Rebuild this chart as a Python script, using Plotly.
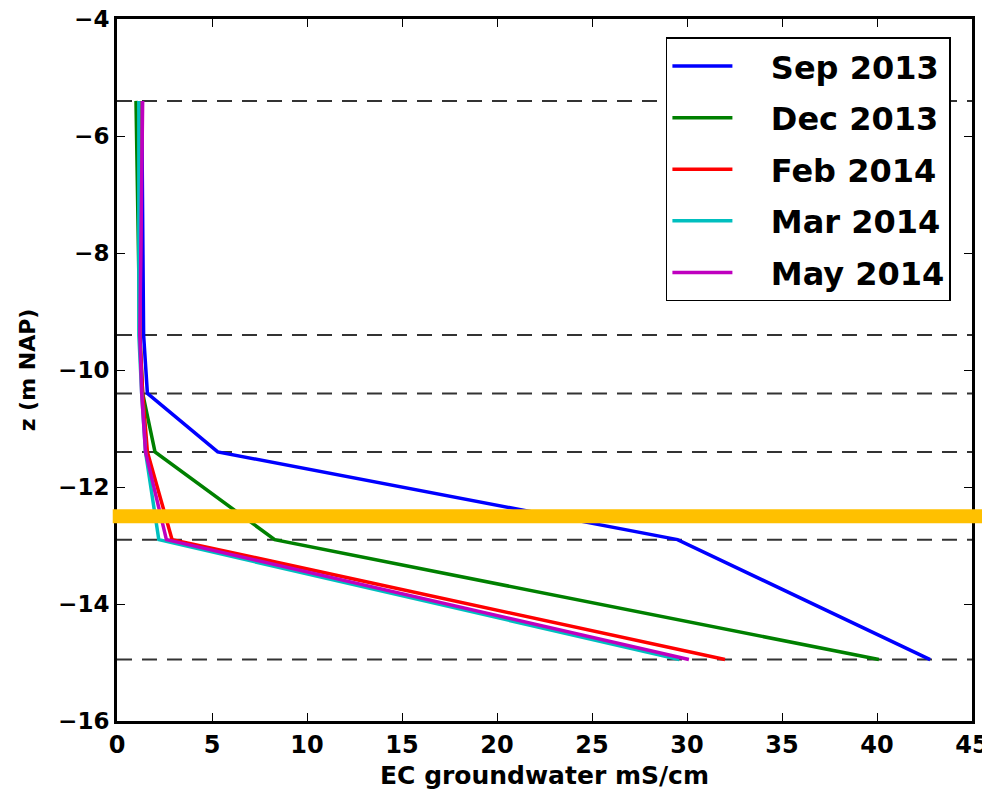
import plotly.graph_objects as go

depth = [-5.4, -9.4, -10.4, -11.4, -12.9, -14.95]
series_names = ["Sep 2013", "Dec 2013", "Feb 2014", "Mar 2014", "May 2014"]
sep_2013 = [1.3, 1.4, 1.6, 5.3, 29.5, 42.8]
dec_2013 = [1.0, 1.2, 1.35, 2.0, 8.3, 40.1]
feb_2014 = [1.3, 1.2, 1.35, 1.6, 2.9, 32.0]
mar_2014 = [1.15, 1.15, 1.3, 1.5, 2.2, 29.6]
may_2014 = [1.35, 1.2, 1.3, 1.5, 2.6, 30.1]
series_values = [sep_2013, dec_2013, feb_2014, mar_2014, may_2014]
colors = ["#0000FF", "#008000", "#FF0000", "#00BFBF", "#BF00BF"]
layer_depths = [-5.4, -9.4, -10.4, -11.4, -12.9, -14.95]
highlight_z = -12.5

x_ticks = [0, 5, 10, 15, 20, 25, 30, 35, 40, 45]
y_ticks = [-16, -14, -12, -10, -8, -6, -4]

fig = go.Figure()
for i, (name, vals) in enumerate(zip(series_names, series_values)):
    fig.add_trace(go.Scatter(
        x=vals, y=depth, mode="lines", name="\u00a0\u00a0\u00a0" + name,
        legendgroup=f"g{i}",
        line=dict(color=colors[i], width=3.5),
    ))

shapes = []
for d in layer_depths:
    shapes.append(dict(type="line", xref="paper", yref="y", x0=0, x1=1, y0=d, y1=d,
                       line=dict(color="#333333", width=2, dash="15px,10px"), layer="below"))
shapes.append(dict(type="line", xref="paper", yref="y", x0=-0.005, x1=1.03,
                   y0=highlight_z, y1=highlight_z,
                   line=dict(color="#FFC000", width=14), layer="above"))

font_family = "DejaVu Sans"
fig.update_layout(
    width=982, height=787,
    margin=dict(l=109, r=18, t=11, b=74, autoexpand=False),
    paper_bgcolor="white", plot_bgcolor="white",
    font=dict(family=font_family, color="black"),
    shapes=shapes,
    showlegend=True,
    legend=dict(
        x=0.642, y=0.974, xanchor="left", yanchor="top",
        bgcolor="white", bordercolor="black", borderwidth=1.5,
        font=dict(size=32, family=font_family, weight="bold"),
        tracegroupgap=7, itemwidth=60,
    ),
    xaxis=dict(
        range=[0, 45], tickvals=x_ticks, ticktext=[str(v) for v in x_ticks],
        showgrid=False, zeroline=False, automargin=False, ticklabeloverflow="allow",
        showline=True, linecolor="black", linewidth=3, mirror="ticks",
        ticks="inside", ticklen=8, tickwidth=1, tickcolor="black",
        tickfont=dict(size=24, weight="bold"),
        title=dict(text="EC groundwater mS/cm", font=dict(size=25, weight="bold"), standoff=9),
    ),
    yaxis=dict(
        range=[-16, -4], tickvals=y_ticks, ticktext=["\u2212" + str(-v) for v in y_ticks],
        showgrid=False, zeroline=False, automargin=False, ticklabeloverflow="allow",
        showline=True, linecolor="black", linewidth=3, mirror="ticks",
        ticks="inside", ticklen=8, tickwidth=1, tickcolor="black",
        tickfont=dict(size=23, weight="bold"),
        title=dict(text="z (m NAP)", font=dict(size=22, weight="bold"), standoff=17),
    ),
)

fig.write_html("out.html")
